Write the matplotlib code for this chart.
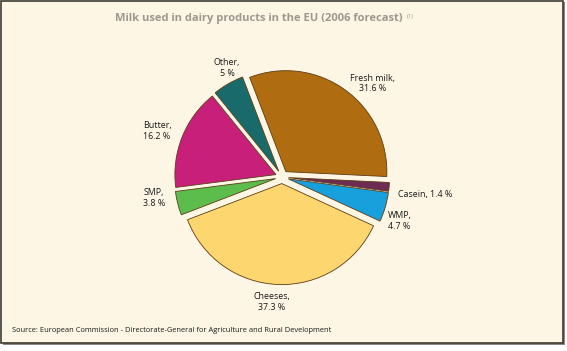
import matplotlib
matplotlib.use("Agg")
import matplotlib.pyplot as plt
from matplotlib.patches import Rectangle
import numpy as np

categories = ["Fresh milk", "Casein", "WMP", "Cheeses", "SMP", "Butter", "Other"]
values = [31.6, 1.4, 4.7, 37.3, 3.8, 16.2, 5.0]
value_labels = ["31.6 %", "1.4 %", "4.7 %", "37.3 %", "3.8 %", "16.2 %", "5 %"]
colors = ["#b06c10", "#6e2c55", "#18a0dc", "#fdd670", "#5cbd4c", "#c8207a", "#196b6b"]

W, H = 567, 351
fig = plt.figure(figsize=(W / 100, H / 100), dpi=100)
fig.patch.set_facecolor("white")
ax = fig.add_axes([0, 0, 1, 1])

# panel background and border
ax.add_patch(Rectangle((3, 6), 562, 343, facecolor="#8a8a84", edgecolor="none", zorder=0))
ax.add_patch(Rectangle((1, 8), 562, 342, facecolor="#fef6e4", edgecolor="#3c3a32", linewidth=1.2, zorder=1))

cx, cy, R = 282, H - 177, 101
wedges, _ = ax.pie(values, colors=colors, startangle=111, counterclock=False,
                   explode=[0.065 * R] * len(values), center=(cx, cy), radius=R,
                   wedgeprops=dict(edgecolor="#5a3c14", linewidth=0.6), frame=True)
for w in wedges:
    w.set_zorder(3)
ax.set_xlim(0, W)
ax.set_ylim(0, H)
ax.set_aspect("equal")
ax.axis("off")

font = "Open Sans"
label_pos = {
    "Fresh milk": (373, 83.5, "center"),
    "Casein": (398, 194, "left"),
    "WMP": (388, 221, "left"),
    "Cheeses": (272, 302, "center"),
    "SMP": (154, 198, "center"),
    "Butter": (157, 131, "center"),
    "Other": (227, 68, "center"),
}
for cat, vl in zip(categories, value_labels):
    x, y, ha = label_pos[cat]
    if cat == "Casein":
        txt = f"{cat}, {vl}"
    else:
        txt = f"{cat},\n{vl}"
    ax.text(x, H - y, txt, ha=ha, va="center", fontsize=6.4, family=font,
            color="#1a1a1a", linespacing=1.25, zorder=5)

title = ax.text(259, H - 18, "Milk used in dairy products in the EU (2006 forecast)",
                ha="center", va="center", fontsize=8.0, fontweight="bold", family=font,
                color="#9c9890", zorder=5)
ax.annotate("(1)", xy=(1, 1), xycoords=title, xytext=(2.5, -1), textcoords="offset points",
            ha="left", va="top", fontsize=4.3, family=font, color="#9c9890", zorder=5)

ax.text(12, H - 331, "Source: European Commission - Directorate-General for Agriculture and Rural Development",
        ha="left", va="center", fontsize=5.4, family=font, color="#1a1a1a", zorder=5)

fig.savefig("out.png", dpi=100, facecolor=fig.get_facecolor())
